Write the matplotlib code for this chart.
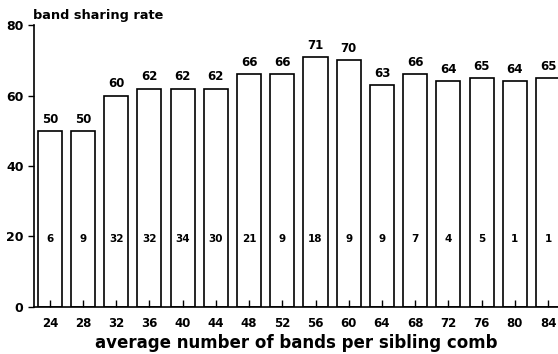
import numpy as np
import matplotlib.pyplot as plt

plt.rcParams['font.family'] = ['DejaVu Sans']
plt.rcParams['font.weight'] = 'bold'

# promedio de bandas por peine de hermanos
bandas = [24, 28, 32, 36, 40, 44, 48, 52, 56, 60, 64, 68, 72, 76, 80, 84]
# tasa de bandas compartidas (%)
tasa = [50, 50, 60, 62, 62, 62, 66, 66, 71, 70, 63, 66, 64, 65, 64, 65]
# numero de pares en cada grupo
pares = [6, 9, 32, 32, 34, 30, 21, 9, 18, 9, 9, 7, 4, 5, 1, 1]

fig = plt.figure(figsize=(5.58, 3.54), dpi=100)
ax = fig.add_axes([0.061, 0.133, 0.939, 0.796])

ax.bar(bandas, tasa, width=2.9, facecolor='white', edgecolor='black', linewidth=1.2)

for x, v, n in zip(bandas, tasa, pares):
    ax.text(x, v + 1.5, str(v), ha='center', va='bottom', fontsize=8.5, fontweight='bold')
    ax.text(x, 19.4, str(n), ha='center', va='center', fontsize=7.5, fontweight='bold')

ax.set_xlim(22.1, 85.2)
ax.set_ylim(0, 80)
ax.set_xticks(bandas)
ax.set_yticks([0, 20, 40, 60, 80])
ax.tick_params(axis='x', direction='in', length=5, width=1, labelsize=8.5, pad=7)
ax.tick_params(axis='y', direction='out', length=4, width=1, labelsize=9)

for s in ['top', 'right']:
    ax.spines[s].set_visible(False)
ax.spines['left'].set_linewidth(1.2)
ax.spines['bottom'].set_linewidth(1.2)

ax.set_xlabel('average number of bands per sibling comb', fontsize=12, fontweight='bold', labelpad=3)
fig.text(0.059, 0.957, 'band sharing rate', fontsize=9.3, fontweight='bold', ha='left', va='center')

plt.savefig('out.png', dpi=100)
